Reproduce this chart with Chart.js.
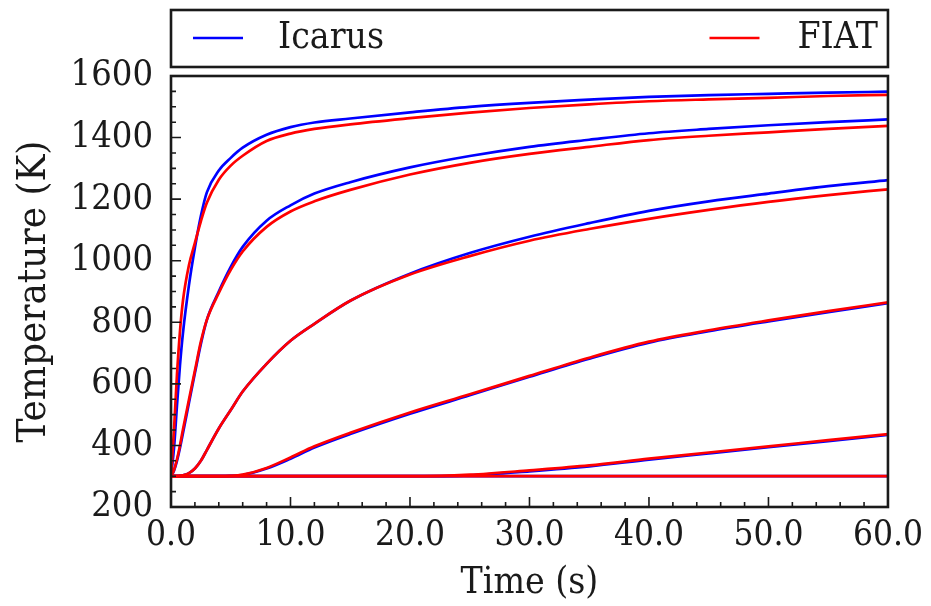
<!DOCTYPE html>
<html>
<head>
<meta charset="utf-8">
<script src="https://cdn.jsdelivr.net/npm/chart.js@4.4.1/dist/chart.umd.min.js"></script>
<style>
  html, body { margin: 0; padding: 0; background: #fff; }
  #wrap { width: 931px; height: 606px; }
</style>
</head>
<body>
<div id="wrap"><canvas id="tempChart" width="931" height="606"></canvas></div>
<script>
// time samples (s), shared by every curve
const times = [0, 0.25, 0.5, 0.75, 1, 1.5, 2, 2.5, 3, 4, 5, 6, 8, 10, 12, 15, 20, 25, 30, 35, 40, 45, 50, 55, 60];

// Icarus temperatures (K), one array per thermocouple depth
const icarus1 = [300, 390, 530, 660, 765, 920, 1042, 1145, 1222, 1293, 1334, 1367, 1409, 1434, 1449, 1462, 1482, 1500, 1513, 1523, 1532, 1538, 1542, 1546, 1549];
const icarus2 = [300, 318, 350, 392, 440, 538, 635, 730, 808, 900, 980, 1045, 1130, 1180, 1218, 1255, 1303, 1340, 1370, 1393, 1414, 1428, 1440, 1450, 1459];
const icarus3 = [300, 300, 300, 301, 303, 310, 325, 350, 385, 455, 515, 575, 665, 740, 795, 870, 958, 1025, 1078, 1122, 1162, 1193, 1218, 1242, 1262];
const icarus4 = [300, 300, 300, 300, 300, 300, 300, 300, 300, 300, 301, 304, 325, 357, 393, 437, 503, 563, 623, 682, 734, 771, 803, 833, 862];
const icarus5 = [300, 300, 300, 300, 300, 300, 300, 300, 300, 300, 300, 300, 300, 300, 300, 300, 300, 303, 316, 332, 354, 374, 394, 414, 434];
const icarus6 = [300, 300, 300, 300, 300, 300, 300, 300, 300, 300, 300, 300, 300, 300, 300, 300, 300, 300, 300, 300, 300, 300, 300, 300, 300];

// FIAT temperatures (K)
const fiat1 = [300, 450, 630, 770, 870, 985, 1058, 1128, 1188, 1263, 1309, 1341, 1389, 1413, 1428, 1443, 1463, 1481, 1496, 1508, 1518, 1524, 1529, 1535, 1539];
const fiat2 = [300, 320, 355, 400, 452, 548, 643, 737, 808, 895, 970, 1030, 1110, 1160, 1193, 1230, 1280, 1318, 1347, 1370, 1392, 1406, 1417, 1428, 1438];
const fiat3 = [300, 300, 300, 301, 303, 310, 325, 350, 385, 455, 515, 575, 665, 740, 795, 870, 955, 1015, 1065, 1103, 1136, 1165, 1191, 1213, 1232];
const fiat4 = [300, 300, 300, 300, 300, 300, 300, 300, 300, 300, 301, 305, 327, 361, 397, 441, 507, 566, 626, 685, 737, 774, 806, 836, 865];
const fiat5 = [300, 300, 300, 300, 300, 300, 300, 300, 300, 300, 300, 300, 300, 300, 300, 300, 300, 305, 319, 335, 357, 377, 397, 417, 437];
const fiat6 = [300, 300, 300, 300, 300, 300, 300, 300, 300, 300, 300, 300, 300, 300, 300, 300, 300, 300, 300, 300, 300, 300, 300, 300, 300];

const seriesNames = ["Icarus", "FIAT"];
const seriesColors = ["#0000ff", "#ff0000"];
const icarusCurves = [icarus1, icarus2, icarus3, icarus4, icarus5, icarus6];
const fiatCurves = [fiat1, fiat2, fiat3, fiat4, fiat5, fiat6];

const xMin = 0, xMax = 60, xMajor = 10, xMinor = 2;
const yMin = 200, yMax = 1600, yMajor = 200, yMinor = 50;

const FONT = "'DejaVu Serif Condensed', 'DejaVu Serif', serif";

function toPoints(values) {
  return times.map((t, i) => ({ x: t, y: values[i] }));
}

function makeSet(values, series, order) {
  return {
    label: seriesNames[series],
    data: toPoints(values),
    borderColor: seriesColors[series],
    borderWidth: 2.7,
    pointRadius: 0,
    fill: false,
    cubicInterpolationMode: "monotone",
    order: order
  };
}

const datasets = [];
icarusCurves.forEach(v => datasets.push(makeSet(v, 0, 1)));
fiatCurves.forEach(v => datasets.push(makeSet(v, 1, 0)));

// box, inward ticks and the framed legend, drawn like the matplotlib original
const frameAndTicks = {
  id: "frameAndTicks",
  afterDraw(chart) {
    const { ctx, chartArea: a, scales: { x, y } } = chart;
    ctx.save();
    ctx.strokeStyle = "#1a1a1a";
    ctx.lineWidth = 1.6;
    ctx.beginPath();
    for (let v = xMin; v <= xMax; v += xMinor) {
      const px = x.getPixelForValue(v);
      const len = v % xMajor === 0 ? 10 : 5;
      ctx.moveTo(px, a.bottom);
      ctx.lineTo(px, a.bottom - len);
    }
    for (let v = yMin; v <= yMax; v += yMinor) {
      const py = y.getPixelForValue(v);
      const len = v % yMajor === 0 ? 10 : 5;
      ctx.moveTo(a.left, py);
      ctx.lineTo(a.left + len, py);
    }
    ctx.stroke();

    ctx.lineWidth = 2.6;
    ctx.strokeRect(a.left, a.top, a.right - a.left, a.bottom - a.top);

    // legend box
    const top = 10, bottom = 67, mid = 38;
    ctx.strokeRect(a.left, top, a.right - a.left, bottom - top);
    ctx.font = "37px " + FONT;
    ctx.fillStyle = "#1a1a1a";
    ctx.textBaseline = "middle";

    ctx.strokeStyle = seriesColors[0];
    ctx.beginPath();
    ctx.moveTo(a.left + 22, mid);
    ctx.lineTo(a.left + 72, mid);
    ctx.stroke();
    ctx.textAlign = "left";
    ctx.fillText(seriesNames[0], a.left + 107, mid);

    ctx.textAlign = "right";
    const textRight = a.right - 10;
    const w = ctx.measureText(seriesNames[1]).width;
    ctx.fillText(seriesNames[1], textRight, mid);
    ctx.strokeStyle = seriesColors[1];
    ctx.beginPath();
    ctx.moveTo(textRight - w - 88, mid);
    ctx.lineTo(textRight - w - 38, mid);
    ctx.stroke();
    ctx.restore();
  }
};

new Chart(document.getElementById("tempChart").getContext("2d"), {
  type: "line",
  data: { datasets },
  options: {
    responsive: false,
    devicePixelRatio: 1,
    animation: false,
    layout: { padding: { top: 76, right: 40, left: 0, bottom: 0 } },
    plugins: {
      legend: { display: false },
      tooltip: { enabled: false }
    },
    scales: {
      x: {
        type: "linear",
        min: xMin,
        max: xMax,
        grid: { display: false, drawTicks: false },
        border: { display: false },
        ticks: {
          stepSize: xMajor,
          autoSkip: false,
          maxRotation: 0,
          padding: 8,
          color: "#1a1a1a",
          font: { family: FONT, size: 35 },
          callback: v => v.toFixed(1)
        },
        title: {
          display: true,
          text: "Time (s)",
          color: "#1a1a1a",
          font: { family: FONT, size: 37 },
          padding: { top: 0, bottom: 0 }
        },
        afterFit: s => { s.height = 99; }
      },
      y: {
        type: "linear",
        min: yMin,
        max: yMax,
        grid: { display: false, drawTicks: false },
        border: { display: false },
        ticks: {
          stepSize: yMajor,
          autoSkip: false,
          padding: 18,
          color: "#1a1a1a",
          font: { family: FONT, size: 36 },
          callback: v => String(v)
        },
        title: {
          display: true,
          text: "Temperature (K)",
          color: "#1a1a1a",
          font: { family: FONT, size: 40 },
          padding: { top: 11, bottom: 0 }
        },
        afterFit: s => { s.width = 171; }
      }
    }
  },
  plugins: [frameAndTicks]
});
</script>
</body>
</html>
